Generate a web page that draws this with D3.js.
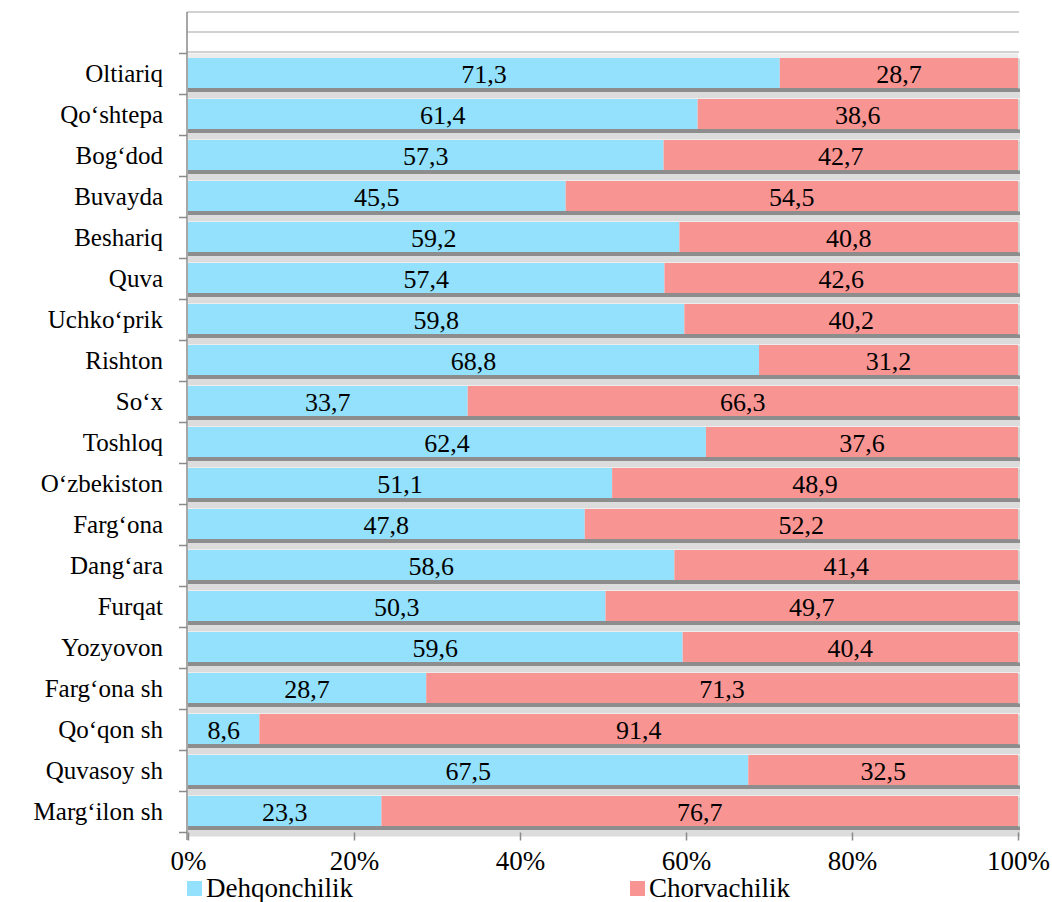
<!DOCTYPE html>
<html>
<head>
<meta charset="utf-8">
<script src="https://cdn.jsdelivr.net/npm/d3@7"></script>
<style>
  body { margin: 0; background: #ffffff; }
  svg text { font-family: "Liberation Serif", "DejaVu Serif", "Noto Serif", serif; }
</style>
</head>
<body>
<div id="chart"></div>
<script>

// --- Daten ---------------------------------------------------------------- //

var categories = ['Oltiariq', 'Qo\u2018shtepa', 'Bog\u2018dod', 'Buvayda', 'Beshariq', 'Quva',
    'Uchko\u2018prik', 'Rishton', 'So\u2018x', 'Toshloq', 'O\u2018zbekiston', 'Farg\u2018ona',
    'Dang\u2018ara', 'Furqat', 'Yozyovon', 'Farg\u2018ona sh', 'Qo\u2018qon sh', 'Quvasoy sh', 'Marg\u2018ilon sh'];

var dehqon = [71.3, 61.4, 57.3, 45.5, 59.2, 57.4, 59.8, 68.8, 33.7, 62.4, 51.1, 47.8, 58.6, 50.3, 59.6, 28.7, 8.6, 67.5, 23.3];
var chorva = [28.7, 38.6, 42.7, 54.5, 40.8, 42.6, 40.2, 31.2, 66.3, 37.6, 48.9, 52.2, 41.4, 49.7, 40.4, 71.3, 91.4, 32.5, 76.7];

var seriesNames = ['Dehqonchilik', 'Chorvachilik'];
var tickValues = [0, 20, 40, 60, 80, 100];

var colBlue = '#93e1fc';
var colPink = '#f89593';

// --- Zeichnen ------------------------------------------------------------- //

var width = 1052, height = 902;

var svg = d3.select('#chart').append('svg')
    .attr('width', width)
    .attr('height', height);

var x = d3.scaleLinear().domain([0, 100]).range([188, 1018]);
var y = d3.scaleBand().domain(categories).range([53.5, 832.5]).paddingInner(0).paddingOuter(0);

var bw = y.bandwidth();

// obere Gitterlinien
[12, 32, 52].forEach(function (gy) {
    svg.append('line')
        .attr('x1', 187).attr('x2', x(100) + 1)
        .attr('y1', gy).attr('y2', gy)
        .attr('stroke', '#a6a6a6').attr('stroke-width', 1.2);
});

// heller Streifen über dem ersten Balken
svg.append('rect')
    .attr('x', x(0)).attr('y', y(categories[0]))
    .attr('width', x(100) - x(0)).attr('height', 4.5)
    .attr('fill', '#ececec');

var rows = svg.append('g');

categories.forEach(function (c, i) {
    var top = y(c);
    var g = rows.append('g');

    // Schatten
    g.append('rect')
        .attr('x', x(0)).attr('y', top + 38.5)
        .attr('width', x(100) - x(0) + 2).attr('height', 6.5)
        .attr('fill', '#dcdcdc');
    g.append('rect')
        .attr('x', x(0)).attr('y', top + 34.5)
        .attr('width', x(100) - x(0) + 2).attr('height', 4)
        .attr('fill', '#8d8d8d');
    g.append('rect')
        .attr('x', x(100)).attr('y', top + 5)
        .attr('width', 2).attr('height', 30)
        .attr('fill', '#d4d4d4');

    // Balken
    g.append('rect')
        .attr('x', x(0)).attr('y', top + 4.5)
        .attr('width', x(dehqon[i]) - x(0)).attr('height', 30)
        .attr('fill', colBlue);
    g.append('rect')
        .attr('x', x(dehqon[i])).attr('y', top + 4.5)
        .attr('width', x(dehqon[i] + chorva[i]) - x(dehqon[i])).attr('height', 30)
        .attr('fill', colPink);

    // Werte
    g.append('text')
        .attr('x', (x(0) + x(dehqon[i])) / 2)
        .attr('y', top + 29)
        .attr('text-anchor', 'middle')
        .style('font-size', '26px')
        .attr('fill', '#000')
        .text(String(dehqon[i]).replace('.', ','));
    g.append('text')
        .attr('x', (x(dehqon[i]) + x(100)) / 2)
        .attr('y', top + 29)
        .attr('text-anchor', 'middle')
        .style('font-size', '26px')
        .attr('fill', '#000')
        .text(String(chorva[i]).replace('.', ','));
});

// Y-Achse
svg.append('line')
    .attr('x1', 187).attr('x2', 187)
    .attr('y1', 12).attr('y2', 840)
    .attr('stroke', '#8a8a8a').attr('stroke-width', 1.5);

var yTicks = categories.map(function (c) { return y(c); }).concat([y.range()[1]]);
yTicks.forEach(function (ty) {
    svg.append('line')
        .attr('x1', 179).attr('x2', 187)
        .attr('y1', ty).attr('y2', ty)
        .attr('stroke', '#8a8a8a').attr('stroke-width', 1.5);
});

svg.append('g').selectAll('text')
    .data(categories)
    .enter().append('text')
    .attr('x', 163)
    .attr('y', function (d) { return y(d) + bw / 2 + 8; })
    .attr('text-anchor', 'end')
    .style('font-size', '25px')
    .attr('fill', '#000')
    .text(function (d) { return d; });

// X-Achse
var xAxis = svg.append('g')
    .attr('transform', 'translate(0,' + y.range()[1] + ')')
    .call(d3.axisBottom(x).tickValues(tickValues).tickSize(8).tickFormat(function (d) { return d + '%'; }));

xAxis.attr('font-family', null).attr('font-size', null);
xAxis.select('.domain').remove();
xAxis.selectAll('.tick line').attr('stroke', '#8a8a8a').attr('stroke-width', 1.5);
xAxis.selectAll('.tick text')
    .attr('y', 18)
    .attr('dy', '0.71em')
    .style('font-size', '27px')
    .attr('fill', '#000');

// Legende
var legendX = [187, 630];
seriesNames.forEach(function (s, i) {
    svg.append('rect')
        .attr('x', legendX[i]).attr('y', 881)
        .attr('width', 15).attr('height', 15)
        .attr('fill', i === 0 ? colBlue : colPink);
    svg.append('text')
        .attr('x', legendX[i] + 19)
        .attr('y', 897)
        .style('font-size', '27px')
        .attr('fill', '#000')
        .text(s);
});

</script>
</body>
</html>
